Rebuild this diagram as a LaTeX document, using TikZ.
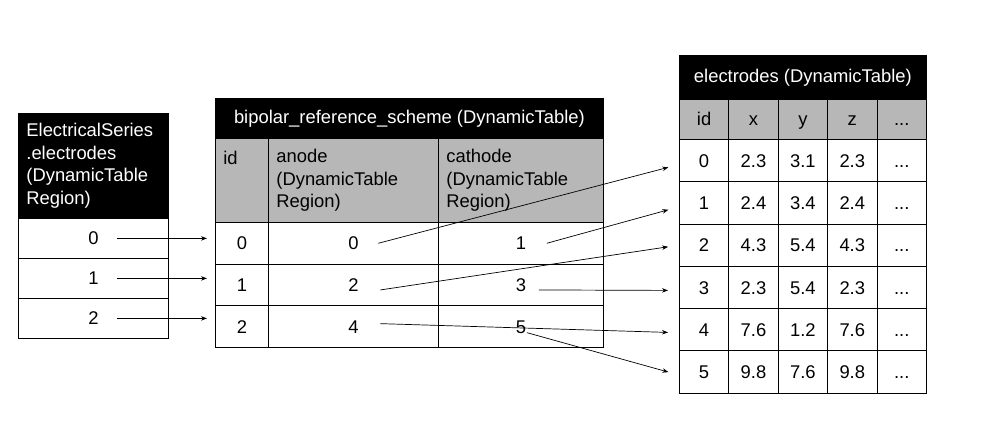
\documentclass[tikz,border=0pt]{standalone}
\usepackage{fontspec}
\setmainfont{Liberation Sans}
\usepackage{xcolor}
\definecolor{hdrgray}{HTML}{B7B7B7}
\usepackage{tikz}
\usetikzlibrary{arrows.meta,positioning}
\tikzset{
  >={Stealth[length=6pt,width=4.5pt]},
  cell/.style   ={draw=black,line width=0.8pt,fill=white,anchor=north west,
                  inner sep=0pt,align=center,text height=13.2pt,text depth=0pt},
  tabtitle/.style={draw=black,line width=0.8pt,fill=black,text=white,
                  anchor=north west,inner sep=0pt,align=center},
  colhead/.style={draw=black,line width=0.8pt,fill=hdrgray,anchor=north west,
                  inner xsep=8pt,inner ysep=0pt,align=left},
  link/.style   ={->,draw=black,line width=0.7pt},
}
\newcommand{\moredots}{...}

\begin{document}
\begin{tikzpicture}[x=1pt,y=-1pt,font=\fontsize{18.4}{22.5}\selectfont]
\useasboundingbox (0,0) rectangle (994,446);
% ElectricalSeries.electrodes
\node[tabtitle,minimum width=150pt,minimum height=105pt,text width=134pt,
      align=left] (eshead) at (18,113)
 {ElectricalSeries\\.electrodes\\(DynamicTable\\Region)};
\foreach \i in {0,1,2}
  \node[cell,minimum width=150pt,minimum height=40pt] (es\i) at (18,{218+40*\i}) {\i};
% bipolar_reference_scheme
\node[tabtitle,minimum width=388pt,minimum height=40pt] (bphead) at (215,98)
 {bipolar\_reference\_scheme (DynamicTable)};
\node[colhead,minimum width=53pt,minimum height=84pt,text width=37pt] (bphid) at (215,138) {id\\~\\~};
\node[colhead,minimum width=170pt,minimum height=84pt,text width=154pt] (bphan) at (268,138)
 {anode\\(DynamicTable\\Region)};
\node[colhead,minimum width=165pt,minimum height=84pt,text width=149pt] (bphca) at (438,138)
 {cathode\\(DynamicTable\\Region)};
\foreach \i/\an/\ca in {0/0/1,1/2/3,2/4/5}{
  \node[cell,minimum width=53pt,minimum height=41.7pt] (bp\i) at (215,{222+41.7*\i}) {\i};
  \node[cell,minimum width=170pt,minimum height=41.7pt] (bpa\i) at (268,{222+41.7*\i}) {\an};
  \node[cell,minimum width=165pt,minimum height=41.7pt] (bpc\i) at (438,{222+41.7*\i}) {\ca};
}
% electrodes
\node[tabtitle,minimum width=247pt,minimum height=44pt] (elhead) at (679,55)
 {electrodes (DynamicTable)};
\foreach \h [count=\j from 0] in {id,x,y,z,\moredots}
  \node[colhead,align=center,inner xsep=0pt,text height=13.2pt,text depth=0pt,
        minimum width=49.4pt,minimum height=40pt] (elh\j) at ({679+49.4*\j},99) {\h};
\foreach \i/\px/\py/\pz in {0/2.3/3.1/2.3,1/2.4/3.4/2.4,2/4.3/5.4/4.3,
                            3/2.3/5.4/2.3,4/7.6/1.2/7.6,5/9.8/7.6/9.8}{
  \node[cell,minimum width=49.4pt,minimum height=42.3pt] (el\i) at (679,{139+42.3*\i}) {\i};
  \node[cell,minimum width=49.4pt,minimum height=42.3pt] (elx\i) at (728.4,{139+42.3*\i}) {\px};
  \node[cell,minimum width=49.4pt,minimum height=42.3pt] (ely\i) at (777.8,{139+42.3*\i}) {\py};
  \node[cell,minimum width=49.4pt,minimum height=42.3pt] (elz\i) at (827.2,{139+42.3*\i}) {\pz};
  \node[cell,minimum width=49.4pt,minimum height=42.3pt] (elm\i) at (876.6,{139+42.3*\i}) {\moredots};
}
% region -> bipolar rows
\foreach \i in {0,1,2}
  \draw[link,shorten >=8pt] ([xshift=24pt]es\i.center) -- (es\i.center -| bp\i.west);
% anode / cathode -> electrodes
\draw[link,shorten >=11pt] ([xshift=25pt]bpa0.center) -- ([yshift=-4pt]el0.west);
\draw[link,shorten >=11pt] ([xshift=26pt]bpc0.center) -- ([yshift=-4pt]el1.west);
\draw[link,shorten >=11pt] ([xshift=27pt,yshift=-5pt]bpa1.center) -- (el2.west);
\draw[link,shorten >=11pt] ([xshift=18pt,yshift=-5pt]bpc1.center) -- ([yshift=-3pt]el3.west);
\draw[link,shorten >=11pt] ([xshift=27pt,yshift=3pt]bpa2.center) -- ([yshift=-3pt]el4.west);
\draw[link,shorten >=11pt] ([xshift=6pt,yshift=-6pt]bpc2.center) -- ([yshift=-3pt]el5.west);
\end{tikzpicture}
\end{document}
